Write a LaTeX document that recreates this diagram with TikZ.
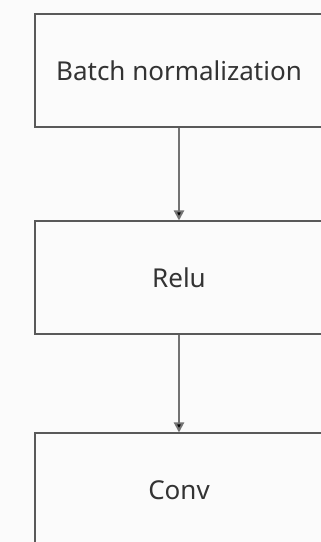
\documentclass[tikz,border=0pt]{standalone}
\usepackage{fontspec}
\setmainfont{Noto Sans}
\usetikzlibrary{arrows.meta}

\begin{document}
\begin{tikzpicture}[x=1pt, y=1pt,
	layer/.style = {draw=black!65, line width=2pt, minimum width=288pt, minimum height=113pt, inner sep=0pt, font=\fontsize{26}{30}\selectfont, text=black!80},
	flow/.style = {draw=black!55, line width=2pt, -{Triangle[length=10pt, width=10pt, fill=black]}}]

	\fill[black!1.5] (0,0) rectangle (321,542);
	\useasboundingbox (0,0) rectangle (321,542);
	\clip (0,0) rectangle (321,542);

	\node[layer] (bn) at (179,471.5) {Batch normalization};
	\node[layer] (relu) at (179,264) {Relu};
	\node[layer] (conv) at (179,52) {Conv};

	\draw[flow] (bn) -- (relu);
	\draw[flow] (relu) -- (conv);

\end{tikzpicture}
\end{document}
